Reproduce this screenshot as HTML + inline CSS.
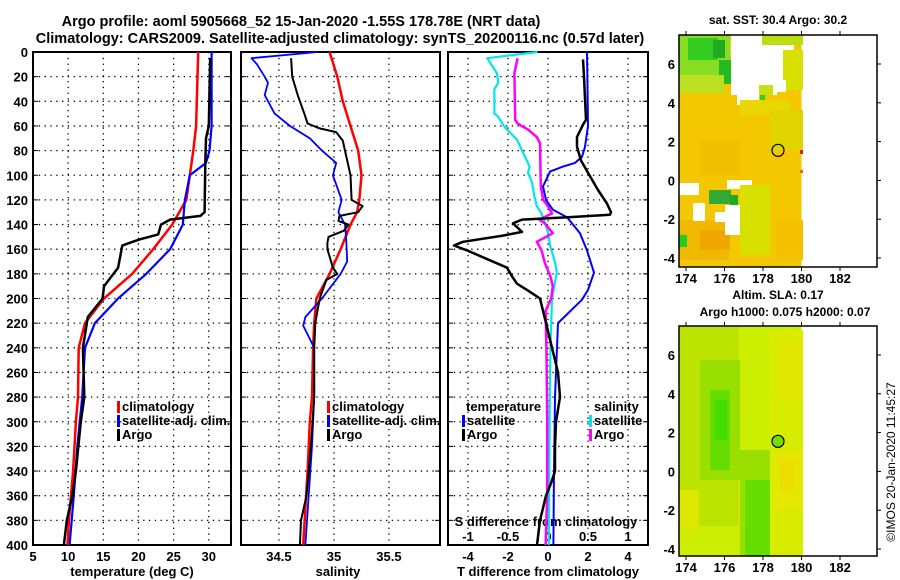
<!DOCTYPE html>
<html><head><meta charset="utf-8"><style>
html,body{margin:0;padding:0;background:#fff;}
svg{display:block;font-family:"Liberation Sans",sans-serif;font-weight:bold;}
</style></head><body>
<svg id="fig" width="900" height="580" viewBox="0 0 900 580" xmlns="http://www.w3.org/2000/svg">
<text x="301" y="26" font-size="14.5" text-anchor="middle">Argo profile: aoml 5905668_52 15-Jan-2020 -1.55S 178.78E (NRT data)</text>
<text x="340" y="43" font-size="14.5" text-anchor="middle">Climatology: CARS2009. Satellite-adjusted climatology: synTS_20200116.nc (0.57d later)</text>
<g id="maps"></g>
<g id="plots"></g>
<text transform="translate(895,462) rotate(-90)" font-size="12" font-weight="normal" text-anchor="middle">©IMOS 20-Jan-2020 11:45:27</text>
</svg>
<script>
// ---- data ----
const tClimDepth=[0,60,80,100,120,140,160,180,200,220,240,280,300,340,380,400];
const tClimVal=[28.5,28.2,27.8,27.3,26.8,24.8,22.1,19.1,15.1,12.4,11.5,11.4,11.1,10.7,10.1,9.9];
const tSatDepth=[0,60,80,90,100,120,140,160,180,200,220,240,280,320,360,400];
const tSatVal=[30.4,30.4,30.1,29.6,27.3,26.6,26.3,24.5,21.1,17.1,13.8,12.4,12.0,11.3,10.8,10.2];
const tArgoDepth=[5,60,70,90,130,133,136,140,148,152,157,175,190,200,215,240,280,300,340,360,380,400];
const tArgoVal=[30.2,30.0,29.6,29.5,29.4,28.8,24.5,23.2,22.8,20.2,17.7,17.1,15.1,14.9,12.8,12.1,12.3,11.8,11.1,10.6,9.8,9.4];
const sClimDepth=[0,20,40,60,80,100,120,130,140,160,180,200,220,240,280,300,340,400];
const sClimVal=[34.96,35.03,35.08,35.15,35.22,35.25,35.23,35.21,35.15,35.06,34.96,34.84,34.82,34.81,34.80,34.78,34.76,34.72];
const sSatDepth=[0,5,10,20,25,35,50,60,70,80,90,100,120,130,140,150,170,180,200,215,222,240,280,320,360,400];
const sSatVal=[34.85,34.25,34.30,34.37,34.40,34.37,34.46,34.60,34.78,34.89,35.02,34.99,35.07,35.04,35.10,35.11,35.12,35.06,34.89,34.74,34.72,34.82,34.82,34.80,34.77,34.74];
const sArgoDepth=[5,20,35,50,58,62,65,72,80,100,120,125,130,133,137,140,145,150,155,160,175,180,185,190,200,220,240,280,320,360,380,400];
const sArgoVal=[34.61,34.62,34.67,34.73,34.76,34.87,35.02,35.08,35.10,35.15,35.16,35.26,35.22,35.05,35.04,35.13,35.09,34.95,34.94,34.94,34.99,35.03,34.93,34.91,34.87,34.83,34.82,34.82,34.79,34.75,34.70,34.69];
const dTSatDepth=[0,60,77,85,90,93,97,104,109,120,128,134,147,161,179,193,201,220,240,280,340,400];
const dTSatVal=[1.95,2.0,1.85,1.7,1.35,0.75,0.1,-0.1,-0.25,-0.1,0.25,0.95,1.6,1.95,2.3,2.0,1.7,0.5,0.45,0.35,0.3,0.27];
const dTArgoDepth=[6,20,55,59,69,77,88,98,112,123,130,132,134,136,139,146,149,154,157,161,169,175,182,188,193,200,220,240,260,280,300,320,340,350,360,380,400];
const dTArgoVal=[1.75,1.8,1.9,1.75,1.45,1.45,1.65,2.0,2.5,2.95,3.15,3.1,1.0,-1.3,-1.75,-1.3,-2.25,-4.25,-4.7,-4.05,-2.9,-2.05,-1.8,-1.55,-1.05,-0.4,-0.1,0.2,0.5,0.6,0.4,0.35,0.35,0.15,-0.1,-0.4,-0.55];
const dSSatDepth=[0,5,8,17,25,30,50,52,61,71,79,93,98,106,117,125,131,144,158,171,179,200,240,300,400];
const dSSatVal=[-0.13,-0.76,-0.73,-0.64,-0.62,-0.67,-0.67,-0.63,-0.54,-0.39,-0.33,-0.23,-0.25,-0.2,-0.17,-0.14,-0.08,-0.01,0.03,0.09,0.11,0.05,0.03,0.02,0.01];
const dSArgoDepth=[5,17,55,58,63,69,74,109,120,125,131,136,139,147,154,161,171,182,190,200,210,240,300,360,400];
const dSArgoVal=[-0.38,-0.42,-0.41,-0.38,-0.25,-0.14,-0.1,-0.09,-0.06,0,0.05,-0.11,-0.04,0.06,-0.14,-0.08,-0.04,0.03,0.06,0.04,-0.03,-0.02,-0.01,-0.01,-0.03];
const depthTicks=[0,20,40,60,80,100,120,140,160,180,200,220,240,260,280,300,320,340,360,380,400];
const tTicks=[5,10,15,20,25,30];
const sTicks=[34.5,35,35.5];
const dTTicks=[-4,-2,0,2,4];
const dSTicks=[-1,-0.5,0,0.5,1];
const lonTicks=[174,176,178,180,182];
const latTicks=[-4,-2,0,2,4,6];

const NS="http://www.w3.org/2000/svg";
const plots=document.getElementById('plots');
function mk(tag,attrs,parent){const e=document.createElementNS(NS,tag);for(const k in attrs)e.setAttribute(k,attrs[k]);(parent||plots).appendChild(e);return e;}
const yTop=52,yBot=545;
const yD=d=>yTop+d*(yBot-yTop)/400;
const panels=[
 {name:'temperature',x0:33,x1:231,v0:5,v1:33.16},
 {name:'salinity',x0:241,x1:440,v0:34.155,v1:35.964},
 {name:'difference',x0:448,x1:648,v0:-5,v1:5}
];
panels.forEach(p=>{p.sx=v=>p.x0+(v-p.v0)*(p.x1-p.x0)/(p.v1-p.v0);});
const xT=panels[0].sx, xS=panels[1].sx, xDT=panels[2].sx, xDS=v=>panels[2].sx(v*4);

function grid(p,ticks,fmt){
  const g=mk('g',{});
  
  
  depthTicks.forEach(d=>{if(d>0&&d<400){const l=mk('line',{x1:p.x0,x2:p.x1,y1:yD(d),y2:yD(d),stroke:'#000','stroke-width':1.3,'stroke-dasharray':'1.3 4.5'},g);
    
    }
    mk('line',{x1:p.x0,x2:p.x0+5,y1:yD(d),y2:yD(d),stroke:'#000'},g);mk('line',{x1:p.x1,x2:p.x1-5,y1:yD(d),y2:yD(d),stroke:'#000'},g);});
  ticks.forEach(v=>{const x=p.sx(v);const l=mk('line',{x1:x,x2:x,y1:yTop,y2:yBot,stroke:'#000','stroke-width':1.3,'stroke-dasharray':'1.3 4.5'},g);
    
    
    const t=mk('text',{x:x,y:561,'font-size':13,'text-anchor':'middle'},g);t.textContent=fmt(v);
    
    });
  const r=mk('rect',{x:p.x0,y:yTop,width:p.x1-p.x0,height:yBot-yTop,fill:'none',stroke:'#000','stroke-width':2},g);
  
  
  return g;
}
grid(panels[0],tTicks,v=>v);
grid(panels[1],sTicks,v=>v);
grid(panels[2],dTTicks,v=>v);
depthTicks.forEach(d=>{const t=mk('text',{x:28,y:yD(d)+5,'font-size':13,'text-anchor':'end'});t.textContent=d;
  
  });
function lbl(x,y,s,name,size,anchor,col){const t=mk('text',{x:x,y:y,'font-size':size||13,'text-anchor':anchor||'middle',fill:col||'#000'});t.textContent=s;
  
  return t;}
lbl(132,576,'temperature (deg C)','x-axis-title-temperature');
lbl(338,576,'salinity','x-axis-title-salinity');
lbl(548,576,'T difference from climatology','x-axis-title-t-difference');
lbl(546,526,'S difference from climatology','s-axis-title');
dSTicks.forEach(v=>{lbl(xDS(v),541,v,'s-tick-label');});

function series(depths,vals,sx,col,name,w){
  const pts=depths.map((d,i)=>sx(vals[i]).toFixed(1)+','+yD(d).toFixed(1)).join(' ');
  const l=mk('polyline',{points:pts,fill:'none',stroke:col,'stroke-width':w||2.2,'stroke-linejoin':'round'});
  
  
}
series(tClimDepth,tClimVal,xT,'#ff0000','temp-climatology-line',2.5);
series(tSatDepth,tSatVal,xT,'#0000ff','temp-satellite-line');
series(tArgoDepth,tArgoVal,xT,'#000','temp-argo-line',2.5);
series(sClimDepth,sClimVal,xS,'#ff0000','sal-climatology-line',2.5);
series(sSatDepth,sSatVal,xS,'#0000ff','sal-satellite-line',1.8);
series(sArgoDepth,sArgoVal,xS,'#000','sal-argo-line',2);
series(dSSatDepth,dSSatVal,xDS,'#00e5ee','sdiff-satellite-line');
series(dSArgoDepth,dSArgoVal,xDS,'#ff00ff','sdiff-argo-line',2.5);
series(dTSatDepth,dTSatVal,xDT,'#0000ff','tdiff-satellite-line',2);
series(dTArgoDepth,dTArgoVal,xDT,'#000','tdiff-argo-line',2.5);

function legEntry(x,y,col,s,name){
  const g=mk('g',{});
  
  
  if(col) mk('rect',{x:x,y:y-10,width:3,height:12,fill:col},g);
  const t=mk('text',{x:x+5,y:y,'font-size':13},g);t.textContent=s;
}
legEntry(117,411,'#ff0000','climatology','legend-climatology');
legEntry(117,425,'#0000ff','satellite-adj. clim.','legend-satellite-adj');
legEntry(117,439,'#000','Argo','legend-argo');
legEntry(327,411,'#ff0000','climatology','legend-climatology-sal');
legEntry(327,425,'#0000ff','satellite-adj. clim.','legend-satellite-adj-sal');
legEntry(327,439,'#000','Argo','legend-argo-sal');
legEntry(461,411,null,'temperature','legend-temperature-header');
legEntry(462,425,'#0000ff','satellite','legend-t-satellite');
legEntry(462,439,'#000','Argo','legend-t-argo');
legEntry(589,411,null,'salinity','legend-salinity-header');
legEntry(589,425,'#00e5ee','satellite','legend-s-satellite');
legEntry(589,439,'#ff00ff','Argo','legend-s-argo');

// ---- maps ----
const mapsG=document.getElementById('maps');
function mapAxes(y0,y1,title,title2,name){
  const g=mk('g',{},mapsG);
  
  
  const x0=679,x1=877;
  const lx=l=>686+(l-174)*19.25, ly=a=>y0+29+(6-a)*19.4;
  return {g,x0,x1,y0,y1,lx,ly,title,title2};
}
function drawMap(m,base,patches,marker){
  const g=m.g;
  mk('rect',{x:m.x0,y:m.y0,width:m.lx(180)-m.x0,height:m.y1-m.y0,fill:base},g);
  patches.forEach(p=>mk('rect',{x:p[0],y:p[1],width:p[2],height:p[3],fill:p[4]},g));
  const c=mk('circle',{cx:m.lx(178.78),cy:m.ly(1.55),r:6,fill:marker,stroke:'#000','stroke-width':1.2},g);
  
  
  mk('rect',{x:m.x0,y:m.y0,width:m.x1-m.x0,height:m.y1-m.y0,fill:'none',stroke:'#000','stroke-width':1.5},g);
  lonTicks.forEach(l=>{const x=m.lx(l);mk('line',{x1:x,x2:x,y1:m.y0,y2:m.y0-4,stroke:'#000'},g);mk('line',{x1:x,x2:x,y1:m.y1,y2:m.y1+4,stroke:'#000'},g);
    const t=mk('text',{x:x,y:m.y1+16,'font-size':13,'text-anchor':'middle'},g);t.textContent=l;});
  latTicks.forEach(a=>{const y=m.ly(a);mk('line',{x1:m.x1,x2:m.x1+4,y1:y,y2:y,stroke:'#000'},g);
    const t=mk('text',{x:m.x0-4,y:y+5,'font-size':13,'text-anchor':'end'},g);t.textContent=a;});
  const t=mk('text',{x:778,y:m.title2?m.y0-27:m.y0-11,'font-size':12,'text-anchor':'middle'},g);t.textContent=m.title;
  if(m.title2){const t2=mk('text',{x:785,y:m.y0-10,'font-size':12,'text-anchor':'middle'},g);t2.textContent=m.title2;}
}
const sstMap=mapAxes(35,267,'sat. SST: 30.4 Argo: 30.2',null,'sst-map');
drawMap(sstMap,'#f4c800',[
 [679,35,51,40,'#88dd22'],[688,38,30,22,'#33cc22'],[713,40,12,18,'#22aa22'],[719,60,18,24,'#22bb22'],[679,75,45,18,'#bbe022'],
 [731,35,46,60,'#ffffff'],[737,95,22,10,'#ffffff'],[762,35,41,10,'#bbdd11'],[772,45,22,5,'#ffffff'],[775,50,8,30,'#ffffff'],[759,60,15,20,'#ffffff'],
 [783,50,20,40,'#d8e000'],[766,80,20,12,'#ffffff'],[759,85,14,10,'#c8e010'],[760,95,5,5,'#33cc22'],
 [740,100,50,15,'#e8d800'],[770,110,33,40,'#e0d400'],[700,140,40,35,'#eec000'],[679,220,50,40,'#f0b800'],[700,230,30,20,'#f0a800'],
 [679,183,20,12,'#ffffff'],[727,180,25,9,'#ffffff'],[693,203,12,18,'#ffffff'],[725,205,20,30,'#ffffff'],[715,212,10,10,'#ffffff'],
 [709,190,22,14,'#33aa33'],[730,195,8,10,'#22aa22'],[740,185,30,70,'#d8e000'],[679,235,8,12,'#22cc22'],[776,220,27,40,'#f4c000'],
 [800,150,3,4,'#cc2200'],[800,170,3,3,'#e07000']
],'none');
const slaMap=mapAxes(326,556,'Altim. SLA: 0.17','Argo h1000: 0.075 h2000: 0.07','sla-map');
drawMap(slaMap,'#ccee00',[
 [679,326,60,200,'#bde400'],[700,360,40,120,'#99e000'],[710,390,20,80,'#66dd00'],[715,400,12,40,'#44dd00'],
 [740,450,30,106,'#99e000'],[745,480,25,76,'#66dd00'],[770,330,33,226,'#d8ec00'],[775,450,28,60,'#e4e800'],[780,460,15,30,'#eedd00'],
 [679,490,20,40,'#dde800'],[780,340,23,60,'#e0e800']
],'#77dd00');
</script>
</body></html>
